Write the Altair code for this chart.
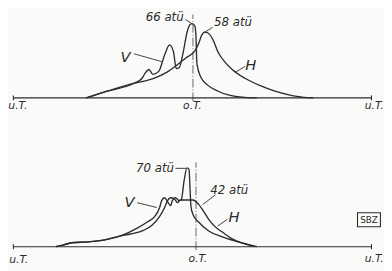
import altair as alt
import pandas as pd

# ---- top panel: V peaks at 66 atü, H peaks at 58 atü ----
top_v_x = [-59.3, -47.2, -32.5, -28.1, -26.5, -24.3, -22.1, -18.8, -15.5, -12.8, -10.6, -9.0,
           -7.3, -5.1, -3.0, -1.3, -0.2, 1.4, 2.0, 2.5, 4.7, 8.5, 14.0, 20.0, 29.3, 35.9]
top_v_y = [0, 6.1, 13.0, 17.4, 21.7, 25.2, 20.9, 23.5, 38.3, 47.0, 40.9, 26.0,
           27.0, 40.9, 58.3, 65.2, 66.0, 63.5, 53.9, 30.4, 18.3, 11.3, 6.1, 2.6, 0.4, 0]
top_h_x = [-59.3, -47.2, -32.5, -21.5, -14.4, -9.0, -3.5, 1.4, 3.6, 5.2, 6.9, 8.5, 11.3,
           14.5, 18.4, 22.2, 29.3, 38.6, 45.7, 53.9, 62.1, 67.6]
top_h_y = [0, 6.1, 13.0, 17.4, 22.6, 28.7, 35.7, 41.7, 48.7, 55.7, 58.5, 57.8, 52.2,
           40.0, 31.3, 25.2, 17.4, 10.4, 6.1, 2.6, 0.4, 0]

# ---- bottom panel: V peaks at 70 atü, H flat top at 42 atü ----
bot_v_x = [-76.3, -71.8, -67.5, -58.2, -48.9, -40.1, -30.8, -25.4, -21.0, -18.3, -17.2, -15.5,
           -13.9, -12.2, -11.2, -9.5, -7.3, -6.2, -4.6, -3.0, -1.9, -1.3, -0.8, 0.3, 3.6, 9.1,
           16.7, 25.5, 31.0, 34.8]
bot_v_y = [0, 1.7, 3.5, 4.3, 6.1, 9.6, 16.5, 21.7, 27.0, 34.8, 40.9, 43.5,
           40.0, 36.5, 40.9, 43.5, 40.9, 41.7, 59.1, 70.0, 68.7, 50.4, 35.7, 28.7, 21.7, 13.9,
           8.7, 4.3, 1.7, 0]
bot_h_x = [-76.3, -71.8, -67.5, -58.2, -48.9, -40.1, -34.7, -27.0, -22.6, -18.3, -15.5, -13.9,
           -12.2, -10.1, -8.4, -6.8, -3.5, 0.3, 3.6, 6.3, 9.1, 12.9, 16.7, 22.2, 27.7, 32.1, 36.0]
bot_h_y = [0, 1.7, 3.5, 4.3, 6.1, 9.6, 11.3, 14.8, 19.1, 27.0, 34.8, 40.9,
           43.5, 42.6, 39.1, 41.5, 41.5, 41.5, 37.4, 31.3, 24.3, 17.4, 13.0, 7.0, 3.5, 1.7, 0]

# labels
lab_text = ["66 atü", "58 atü", "V", "H", "u.T.", "o.T.", "u.T.",
            "70 atü", "42 atü", "V", "H", "u.T.", "o.T.", "u.T.", "SBZ"]
lab_x = [-15.5, 22.7, -37.4, 32.6, -97.5, 0.0, 101.5,
         -20.9, 20.6, -35.2, 23.3, -97.0, 3.0, 101.5, 98.6]
lab_y = [71.3, 67.0, 36.5, 28.7, -7.0, -7.0, -7.0,
         69.6, 50.4, 40.0, 26.1, -12.0, -11.0, -11.0, 24.0]
lab_panel = ["top"] * 7 + ["bottom"] * 8
lab_size = [12, 12, 15, 15, 11, 11, 11, 12, 12, 15, 15, 11, 11, 11, 9]
lab_style = ["italic"] * 14 + ["normal"]

# leader lines
lead_x = [-4.0, 11.3, -32.5, 29.3, -9.5, 12.9, -30.8, 19.5]
lead_y = [69.6, 62.6, 39.1, 27.8, 69.6, 46.1, 39.1, 24.3]
lead_x2 = [-0.8, 7.4, -17.2, 23.8, -3.5, 5.7, -19.9, 14.0]
lead_y2 = [66.5, 58.8, 32.2, 22.6, 69.6, 37.4, 34.8, 18.3]
lead_panel = ["top"] * 4 + ["bottom"] * 4

# baseline span (u.T. to u.T.) and o.T. line
span_lo, span_hi = -100, 100
ot_x = [0.3, 2.0]
ot_top = [74.0, 75.0]
ot_bottom = [-3.0, -3.0]
ot_panel = ["top", "bottom"]

TOP_OFFSET = 132.2
XDOM = [-103, 107]
YDOM = [-19.13, 209.57]
INK = "#2b2b2b"

rows = []
for panel, curve, xs, ys in [("top", "V", top_v_x, top_v_y), ("top", "H", top_h_x, top_h_y),
                             ("bottom", "V", bot_v_x, bot_v_y), ("bottom", "H", bot_h_x, bot_h_y)]:
    for i, (a, b) in enumerate(zip(xs, ys)):
        rows.append({"panel": panel, "curve": panel + curve, "x": a, "atu": b, "i": i})
curves = pd.DataFrame(rows)

labels = pd.DataFrame({"t": lab_text, "x": lab_x, "atu": lab_y, "panel": lab_panel,
                       "size": lab_size, "style": lab_style})
leaders = pd.DataFrame({"x": lead_x, "atu": lead_y, "x2": lead_x2, "atu2": lead_y2,
                        "panel": lead_panel})
base = pd.DataFrame({"panel": ["top", "bottom"], "x": [span_lo] * 2, "x2": [span_hi] * 2,
                     "atu": [0, 0]})
ends = pd.DataFrame({"panel": ["top", "top", "bottom", "bottom"],
                     "x": [span_lo, span_hi, span_lo, span_hi],
                     "atu": [-2.2] * 4, "atu2": [2.2] * 4})
otl = pd.DataFrame({"panel": ot_panel, "x": ot_x, "atu": ot_bottom, "atu2": ot_top})
box = pd.DataFrame({"panel": ["bottom"], "x": [92.2], "x2": [105.0], "atu": [17.8], "atu2": [30.2]})

off = f"(datum.panel == 'top' ? {TOP_OFFSET} : 0)"
X = lambda f: alt.X(f, type="quantitative", scale=alt.Scale(domain=XDOM), axis=None)
Y = lambda f: alt.Y(f, type="quantitative", scale=alt.Scale(domain=YDOM), axis=None)

lines = alt.Chart(curves).transform_calculate(yy=f"datum.atu + {off}").mark_line(
    color=INK, strokeWidth=1.35, interpolate="monotone").encode(
    x=X("x"), y=Y("yy"), detail="curve:N", order="i:Q")

baseline = alt.Chart(base).transform_calculate(yy=f"datum.atu + {off}").mark_rule(
    color=INK, strokeWidth=1.2).encode(x=X("x"), x2="x2:Q", y=Y("yy"))

endticks = alt.Chart(ends).transform_calculate(
    yy=f"datum.atu + {off}", yy2=f"datum.atu2 + {off}").mark_rule(
    color=INK, strokeWidth=1.1).encode(x=X("x"), y=Y("yy"), y2="yy2:Q")

otline = alt.Chart(otl).transform_calculate(
    yy=f"datum.atu + {off}", yy2=f"datum.atu2 + {off}").mark_rule(
    color="#555555", strokeWidth=0.9, strokeDash=[9, 2, 1, 2]).encode(
    x=X("x"), y=Y("yy"), y2="yy2:Q")

leadl = alt.Chart(leaders).transform_calculate(
    yy=f"datum.atu + {off}", yy2=f"datum.atu2 + {off}").mark_rule(
    color=INK, strokeWidth=0.9).encode(x=X("x"), x2="x2:Q", y=Y("yy"), y2="yy2:Q")

boxl = alt.Chart(box).transform_calculate(
    yy=f"datum.atu + {off}", yy2=f"datum.atu2 + {off}").mark_rect(
    fill="none", stroke=INK, strokeWidth=1.1).encode(x=X("x"), x2="x2:Q", y=Y("yy"), y2="yy2:Q")

texts = alt.Chart(labels).transform_calculate(yy=f"datum.atu + {off}").mark_text(
    font="DejaVu Sans", color=INK, align="center", baseline="middle").encode(
    x=X("x"), y=Y("yy"), text="t:N", size=alt.Size("size:Q", scale=None, legend=None))

italic = texts.transform_filter("datum.style == 'italic'").mark_text(
    font="DejaVu Sans", fontStyle="italic", color=INK, align="center", baseline="middle")
plain = texts.transform_filter("datum.style == 'normal'").mark_text(
    font="DejaVu Sans", color=INK, align="center", baseline="middle")

chart = alt.layer(otline, baseline, endticks, lines, leadl, boxl, italic, plain).properties(
    width=384, height=263, padding=0, background="#fafaf8",
    autosize=alt.AutoSizeParams(type="none")
).configure_view(stroke=None)

chart.save("out.html", embed_options={"renderer": "svg", "actions": False})
